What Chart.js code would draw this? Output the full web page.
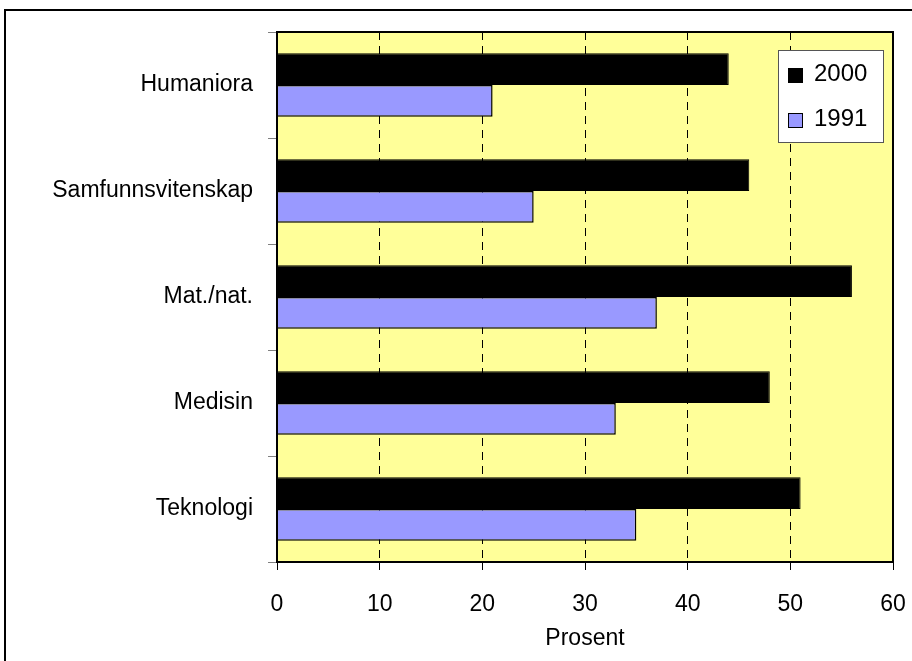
<!DOCTYPE html>
<html>
<head>
<meta charset="utf-8">
<script src="https://cdn.jsdelivr.net/npm/chart.js@4/dist/chart.umd.min.js"></script>
<style>
  body { margin: 0; background: #fff; }
  #wrap { width: 912px; height: 661px; }
</style>
</head>
<body>
<div id="wrap"><canvas id="myChart" width="912" height="661"></canvas></div>
<script>
// data
const categories = ['Humaniora', 'Samfunnsvitenskap', 'Mat./nat.', 'Medisin', 'Teknologi']
const seriesLabels = ['2000', '1991']
const values2000 = [44, 46, 56, 48, 51]
const values1991 = [21, 25, 37, 33, 35]
const xTicks = [0, 10, 20, 30, 40, 50, 60]
const axisTitle = 'Prosent'

const font = 'Liberation Sans, Arial, sans-serif'
const barColors = ['#000000', '#9999FF']

// yellow plot area + outer frame
const background = {
  id: 'background',
  beforeDraw(chart) {
    const {ctx, chartArea: a} = chart
    ctx.save()
    ctx.fillStyle = '#fff'
    ctx.fillRect(0, 0, chart.width, chart.height)
    ctx.strokeStyle = '#000'
    ctx.lineWidth = 2
    ctx.strokeRect(5, 10, 1000, 1000)
    ctx.fillStyle = '#FFFF99'
    ctx.fillRect(a.left, a.top, a.right - a.left, a.bottom - a.top)
    ctx.restore()
  },
  afterDatasetsDraw(chart) {
    const {ctx, chartArea: a} = chart
    ctx.save()
    ctx.strokeStyle = '#000'
    ctx.lineWidth = 2
    ctx.strokeRect(a.left, a.top, a.right - a.left, a.bottom - a.top)
    ctx.restore()
  }
}

// legend box inside the plot, top right
const boxLegend = {
  id: 'boxLegend',
  afterDraw(chart) {
    const {ctx} = chart
    const x = 778, y = 50, w = 105, h = 92
    ctx.save()
    ctx.fillStyle = '#fff'
    ctx.fillRect(x, y, w, h)
    ctx.strokeStyle = '#555'
    ctx.lineWidth = 1
    ctx.strokeRect(x + 0.5, y + 0.5, w, h)
    chart.data.datasets.forEach((ds, i) => {
      const cy = y + 25 + i * 45
      ctx.fillStyle = ds.backgroundColor
      ctx.fillRect(x + 10, cy - 7, 15, 15)
      ctx.strokeStyle = '#000'
      ctx.strokeRect(x + 10.5, cy - 6.5, 14, 14)
      ctx.fillStyle = '#000'
      ctx.font = '24px ' + font
      ctx.textBaseline = 'middle'
      ctx.fillText(ds.label, x + 36, cy - 1)
    })
    ctx.restore()
  }
}

new Chart(document.getElementById('myChart'), {
  type: 'bar',
  data: {
    labels: categories,
    datasets: [{
      label: seriesLabels[0],
      data: values2000,
      backgroundColor: barColors[0],
      borderColor: '#000',
      borderWidth: 1
    }, {
      label: seriesLabels[1],
      data: values1991,
      backgroundColor: barColors[1],
      borderColor: '#000',
      borderWidth: 1.5
    }]
  },
  options: {
    indexAxis: 'y',
    responsive: false,
    animation: false,
    categoryPercentage: 0.6,
    barPercentage: 1.0,
    layout: { padding: { top: 32, right: 19, left: 0, bottom: 0 } },
    plugins: {
      legend: { display: false },
      tooltip: { enabled: false }
    },
    scales: {
      x: {
        min: 0,
        max: 60,
        afterBuildTicks(scale) { scale.ticks = xTicks.map(v => ({value: v})) },
        afterFit(scale) { scale.height = 99; scale.paddingLeft = 0; scale.paddingRight = 0 },
        ticks: { color: '#000', font: { family: font, size: 23 }, padding: 21 },
        grid: { color: '#000', lineWidth: 1, tickLength: 8, tickBorderDash: [] },
        border: { display: false, dash: [8, 6] },
        title: { display: true, text: axisTitle, color: '#000', font: { family: font, size: 23 }, padding: { top: 0, bottom: 9 } }
      },
      y: {
        afterFit(scale) { scale.width = 277; scale.paddingTop = 0; scale.paddingBottom = 0 },
        ticks: { color: '#000', font: { family: font, size: 23 }, padding: 15 },
        grid: { offset: true, drawOnChartArea: false, color: '#808080', tickLength: 9 },
        border: { display: false }
      }
    }
  },
  plugins: [background, boxLegend]
})
</script>
</body>
</html>
